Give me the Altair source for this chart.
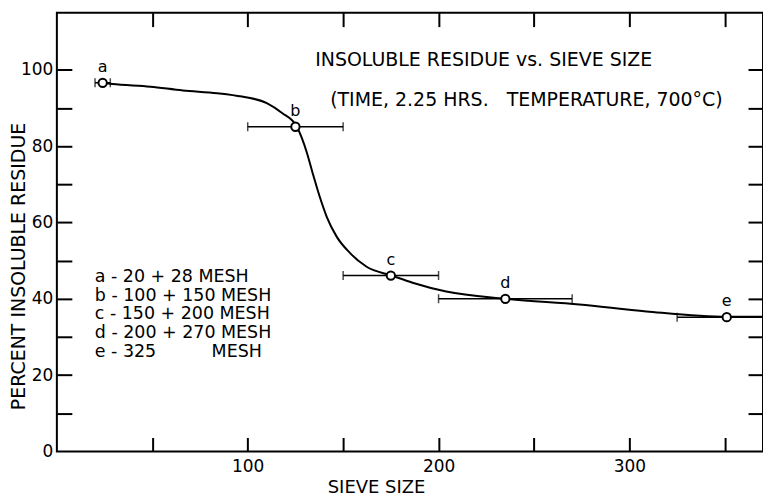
import altair as alt
import pandas as pd

# ---- data ----
samples = ["a", "b", "c", "d", "e"]
sieve = [24, 125, 175, 235, 351]
residue = [96.6, 85.1, 46.1, 40.0, 35.2]
err_lo = [20, 100, 150, 200, 325]
err_hi = [28, 150, 200, 270, 380]   # e runs off the right edge

curve_x = [24, 29, 49, 66, 84, 97, 110, 118, 125.6, 131, 134, 137.7, 141.4,
           146.6, 153.4, 162.3, 175.4, 186.4, 204, 235, 273.8, 308.9, 351.3, 372]
curve_y = [96.6, 96.3, 95.6, 94.6, 93.9, 93.0, 91.3, 88.7, 85.2, 78.3, 73.0, 66.8,
           61.5, 56.3, 52.1, 48.4, 46.1, 44.2, 41.9, 40.0, 38.5, 36.7, 35.3, 35.3]

x_label_ticks = [100, 200, 300]
x_minor_ticks = [50, 100, 150, 200, 250, 300, 350]
y_label_ticks = [0, 20, 40, 60, 80, 100]
y_minor_ticks = [10, 20, 30, 40, 50, 60, 70, 80, 90, 100]

title_line1 = "INSOLUBLE RESIDUE vs. SIEVE SIZE"
title_line2 = "(TIME, 2.25 HRS.\u00a0\u00a0\u00a0TEMPERATURE, 700°C)"
legend_lines = [
    "a - 20 + 28 MESH",
    "b - 100 + 150 MESH",
    "c - 150 + 200 MESH",
    "d - 200 + 270 MESH",
    "e - 325\u00a0\u00a0\u00a0\u00a0\u00a0\u00a0\u00a0\u00a0\u00a0\u00a0MESH",
]

FONT = "DejaVu Sans"
W, H = 708, 440

pts_df = pd.DataFrame({"sample": samples, "sieve": sieve, "residue": residue,
                       "lo": err_lo, "hi": err_hi})
curve_df = pd.DataFrame({"sieve": curve_x, "residue": curve_y})

xscale = alt.Scale(domain=[0, 370], nice=False, zero=False)
yscale = alt.Scale(domain=[0, 115], nice=False, zero=False)

# curve layer carries the labelled axes
curve = alt.Chart(curve_df).mark_line(
    color="black", strokeWidth=2, interpolate="monotone", clip=True
).encode(
    x=alt.X("sieve:Q", scale=xscale, axis=alt.Axis(
        orient="bottom", values=x_label_ticks, tickSize=0, domain=False, grid=False,
        labelFontSize=17, labelFont=FONT, labelColor="black", labelPadding=7,
        title="SIEVE SIZE", titleFont=FONT, titleFontSize=18, titleFontWeight="normal",
        titleColor="black", titleX=320, titleY=36, titleBaseline="middle")),
    y=alt.Y("residue:Q", scale=yscale, axis=alt.Axis(
        orient="left", values=y_label_ticks, tickSize=0, domain=False, grid=False,
        labelFontSize=17, labelFont=FONT, labelColor="black", labelPadding=4,
        title="PERCENT INSOLUBLE RESIDUE", titleFont=FONT, titleFontSize=19,
        titleFontWeight="normal", titleColor="black", titleX=-38, titleY=254,
        titleBaseline="middle", titleAngle=-90)),
)

# error bar lines; axes give inward ticks on bottom and left
err = alt.Chart(pts_df).mark_rule(color="black", strokeWidth=1.5, clip=True).encode(
    x=alt.X("lo:Q", scale=xscale, axis=alt.Axis(
        orient="top", offset=-H, values=x_minor_ticks, labels=False, domain=False,
        grid=False, tickSize=14, tickWidth=2, tickColor="black", title=None)),
    x2="hi:Q",
    y=alt.Y("residue:Q", scale=yscale, axis=alt.Axis(
        orient="right", offset=-W, values=y_minor_ticks, labels=False, domain=False,
        grid=False, tickSize=15, tickWidth=2, tickColor="black", title=None)),
)

# caps; axes give inward ticks on top and right
cap_lo = alt.Chart(pts_df).mark_tick(
    color="black", orient="vertical", size=9, thickness=1.5, clip=True
).encode(
    x=alt.X("lo:Q", scale=xscale, axis=alt.Axis(
        orient="bottom", offset=-H, values=x_minor_ticks, labels=False, domain=False,
        grid=False, tickSize=14, tickWidth=2, tickColor="black", title=None)),
    y=alt.Y("residue:Q", scale=yscale, axis=alt.Axis(
        orient="left", offset=-W, values=y_minor_ticks, labels=False, domain=False,
        grid=False, tickSize=15, tickWidth=2, tickColor="black", title=None)),
)
cap_hi = alt.Chart(pts_df).mark_tick(
    color="black", orient="vertical", size=9, thickness=1.5, clip=True
).encode(
    x=alt.X("hi:Q", scale=xscale, axis=None),
    y=alt.Y("residue:Q", scale=yscale, axis=None),
)

points = alt.Chart(pts_df).mark_point(
    shape="circle", filled=True, fill="white", stroke="black", strokeWidth=2,
    size=70, opacity=1
).encode(
    x=alt.X("sieve:Q", scale=xscale, axis=None),
    y=alt.Y("residue:Q", scale=yscale, axis=None),
)

letters = alt.Chart(pts_df).mark_text(
    font=FONT, fontSize=16, color="black", dy=-16, baseline="middle"
).encode(
    x=alt.X("sieve:Q", scale=xscale, axis=None),
    y=alt.Y("residue:Q", scale=yscale, axis=None),
    text="sample:N",
)

title_df = pd.DataFrame({"t": [0]})
t1 = alt.Chart(title_df).mark_text(
    text=title_line1, font=FONT, fontSize=19, align="left", baseline="middle",
    color="black"
).encode(x=alt.value(259), y=alt.value(48))
t2 = alt.Chart(title_df).mark_text(
    text=title_line2, font=FONT, fontSize=19, align="left", baseline="middle",
    color="black"
).encode(x=alt.value(274), y=alt.value(88))

legend = alt.Chart(title_df).mark_text(
    text="\n".join(legend_lines), lineBreak="\n", lineHeight=18.7, font=FONT,
    fontSize=17.5, align="left", baseline="top", color="black"
).encode(x=alt.value(38), y=alt.value(256))

chart = alt.layer(
    curve, err, cap_lo, cap_hi, points, letters, t1, t2, legend
).resolve_scale(
    x="shared", y="shared"
).resolve_axis(
    x="independent", y="independent"
).properties(
    width=W, height=H, autosize="none",
    padding={"left": 49, "top": 4, "right": 0, "bottom": 44},
    background="white",
).configure_view(stroke="black", strokeWidth=2)

chart.save("out.html", embed_options={"renderer": "svg", "actions": False})
